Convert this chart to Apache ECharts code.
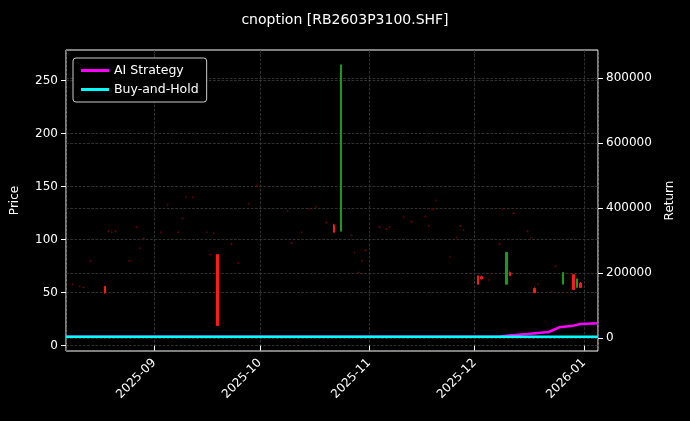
<!DOCTYPE html>
<html><head><meta charset="utf-8">
<script src="https://cdn.jsdelivr.net/npm/echarts@6/dist/echarts.min.js"></script>
<style>html,body{margin:0;background:#000;}#c{width:690px;height:421px;}</style>
</head><body><div id="c"></div>
<script>
// candles: date, open, close, low, high
var dates = ['2025-08-09','2025-08-11','2025-08-12','2025-08-14','2025-08-18','2025-08-19','2025-08-20','2025-08-21','2025-08-25','2025-08-27','2025-08-28','2025-08-29',
  '2025-09-03','2025-09-05','2025-09-08','2025-09-09','2025-09-10','2025-09-12','2025-09-16','2025-09-17','2025-09-18','2025-09-19','2025-09-23','2025-09-25','2025-09-28','2025-09-30',
  '2025-10-09','2025-10-10','2025-10-13','2025-10-15','2025-10-17','2025-10-20','2025-10-22','2025-10-24','2025-10-27','2025-10-28','2025-10-29','2025-10-30','2025-10-31',
  '2025-11-04','2025-11-06','2025-11-07','2025-11-11','2025-11-13','2025-11-17','2025-11-18','2025-11-19','2025-11-20','2025-11-24','2025-11-26','2025-11-27','2025-11-28',
  '2025-12-02','2025-12-03','2025-12-05','2025-12-08','2025-12-09','2025-12-10','2025-12-11','2025-12-12','2025-12-16','2025-12-17','2025-12-18','2025-12-19','2025-12-23','2025-12-24','2025-12-26','2025-12-29','2025-12-30','2025-12-31'];
var opens  = [58,56,55,80,56,108,107,108,80,112,92,101, 107,133,107,120,140,140,107,86,106,86,96,78,134,151, 127,97,107,129,131,116,114,108,104,88,69,80,90, 112,110,112,121,117,122,113,129,137,84,102,113,109, 66,65,62,96,129,58,69,125,108,102,54,58,51,75,58,67,55,59];
var closes = [58,56,55,80,50,108,107,108,80,112,92,101, 107,133,107,120,140,140,107,86,106,19,96,78,134,151, 127,97,107,129,131,116,107,265,104,88,69,80,90, 112,110,112,121,117,122,113,129,137,84,102,113,109, 58,63,62,96,129,88,66,125,108,102,50,58,51,75,69,53,63,55];
var lows   = [57,55,54,79,49,107,106,107,79,111,91,100, 106,132,106,119,139,139,106,85,105,19,95,77,133,150, 126,96,106,128,130,115,107,108,103,87,68,79,89, 111,109,111,120,116,121,112,128,136,83,101,112,108, 58,63,61,95,128,58,66,124,107,101,50,57,50,74,58,53,55,55];
var highs  = [59,57,56,81,56,109,108,109,81,113,93,102, 108,134,108,121,141,141,108,87,107,86,97,79,135,152, 128,98,108,130,132,117,115,265,105,89,70,81,91, 113,111,113,122,118,123,114,130,138,85,103,114,110, 66,66,63,97,130,88,70,126,109,103,55,59,52,76,69,67,63,60];
var aiDates = ['2025-08-07','2025-12-08','2025-12-10','2025-12-16','2025-12-22','2025-12-25','2025-12-29','2025-12-31','2026-01-05'];
var aiVals  = [4000,4000,7000,12300,18500,33000,38000,43000,45000];
var bhDates = ['2025-08-07','2026-01-05'];
var bhVals  = [4000,4000];
var priceTicks  = [0, 50, 100, 150, 200, 250];
var returnTicks = [0, 200000, 400000, 600000, 800000];

var candles = dates.map(function (d, i) {
  var item = {value: [d, opens[i], closes[i], lows[i], highs[i]]};
  if (opens[i] === closes[i]) item.itemStyle = {color: '#6a0000', borderColor: '#6a0000', opacity: 0.8};
  return item;
});
var chart = echarts.init(document.getElementById('c'));
var txt = {color: '#fff', fontFamily: 'DejaVu Sans', fontSize: 12};
var grid = {show: true, lineStyle: {color: '#444', type: 'dashed', width: 0.7}};
chart.setOption({
  backgroundColor: '#000',
  animation: false,
  title: {text: 'cnoption [RB2603P3100.SHF]', left: 'center', top: 8, textStyle: {color: '#fff', fontFamily: 'DejaVu Sans', fontSize: 14, fontWeight: 'normal'}},
  grid: {left: 66, right: 92, top: 50, bottom: 70, show: true, borderColor: '#fff', borderWidth: 1},
  legend: {
    left: 73, top: 58, orient: 'vertical', itemGap: 6, itemWidth: 28, itemHeight: 3,
    borderColor: '#ccc', borderWidth: 1, borderRadius: 3, padding: [6, 8], backgroundColor: '#000',
    textStyle: {color: '#fff', fontFamily: 'DejaVu Sans', fontSize: 12.5},
    data: [{name: 'AI Strategy', icon: 'rect'}, {name: 'Buy-and-Hold', icon: 'rect'}]
  },
  xAxis: {
    type: 'time', min: '2025-08-07', max: '2026-01-05', splitNumber: 5,
    axisLine: {show: false}, axisTick: {lineStyle: {color: '#fff'}},
    axisLabel: Object.assign({rotate: 45, formatter: '{yyyy}-{MM}', margin: 10}, txt),
    splitLine: grid
  },
  yAxis: [{
    type: 'value', name: 'Price', nameLocation: 'middle', nameGap: 45, nameTextStyle: txt,
    min: -5, max: 279, axisLine: {show: false},
    axisTick: {show: true, customValues: priceTicks, lineStyle: {color: '#fff'}},
    axisLabel: Object.assign({customValues: priceTicks}, txt), splitLine: grid
  }, {
    type: 'value', name: 'Return', nameLocation: 'middle', nameGap: 66, nameTextStyle: txt,
    min: -40000, max: 886000, axisLine: {show: false},
    axisTick: {show: true, customValues: returnTicks, lineStyle: {color: '#fff'}},
    axisLabel: Object.assign({customValues: returnTicks, formatter: function (v) { return String(v); }}, txt), splitLine: grid
  }],
  series: [{
    type: 'candlestick', yAxisIndex: 0, barWidth: 2, data: candles,
    itemStyle: {color: '#1a9a1a', color0: '#ff1a1a', borderColor: '#1a9a1a', borderColor0: '#ff1a1a'}
  }, {
    name: 'AI Strategy', type: 'line', yAxisIndex: 1, showSymbol: false, lineStyle: {color: '#ff00ff', width: 2.5}, itemStyle: {color: '#ff00ff'},
    data: aiDates.map(function (d, i) { return [d, aiVals[i]]; })
  }, {
    name: 'Buy-and-Hold', type: 'line', yAxisIndex: 1, showSymbol: false, lineStyle: {color: '#00ffff', width: 2.5}, itemStyle: {color: '#00ffff'},
    data: bhDates.map(function (d, i) { return [d, bhVals[i]]; })
  }]
});
</script></body></html>
